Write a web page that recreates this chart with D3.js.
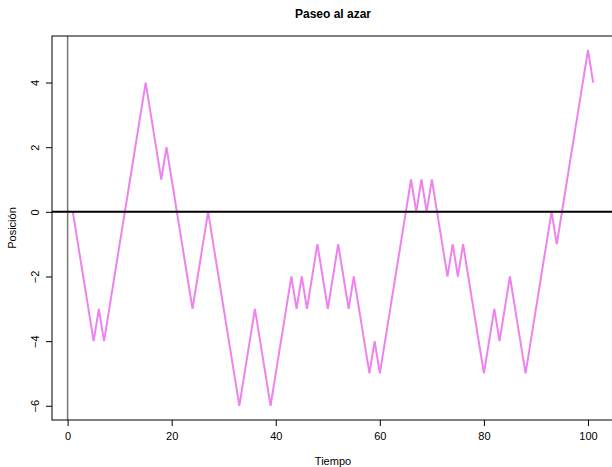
<!DOCTYPE html>
<html>
<head>
<meta charset="utf-8">
<script src="https://cdn.jsdelivr.net/npm/d3@7"></script>
<style>
  body { margin: 0; background: #fff; }
  svg { display: block; font-family: "Liberation Sans", Arial, sans-serif; }
</style>
</head>
<body>
<script>
"use strict";

// posiciones del paseo, tiempo 1..101
const tiempo = d3.range(1, 102);
const posicion = [
  0, -1, -2, -3, -4, -3, -4, -3, -2, -1,
  0, 1, 2, 3, 4, 3, 2, 1, 2, 1,
  0, -1, -2, -3, -2, -1, 0, -1, -2, -3,
  -4, -5, -6, -5, -4, -3, -4, -5, -6, -5,
  -4, -3, -2, -3, -2, -3, -2, -1, -2, -3,
  -2, -1, -2, -3, -2, -3, -4, -5, -4, -5,
  -4, -3, -2, -1, 0, 1, 0, 1, 0, 1,
  0, -1, -2, -1, -2, -1, -2, -3, -4, -5,
  -4, -3, -4, -3, -2, -3, -4, -5, -4, -3,
  -2, -1, 0, -1, 0, 1, 2, 3, 4, 5,
  4
];
const xTicks = [0, 20, 40, 60, 80, 100];
const yTicks = [-6, -4, -2, 0, 2, 4];

const w = 612, h = 467;
const mLeft = 52, mRight = 614, mTop = 36, mBottom = 420;

const svg = d3.select("body").append("svg")
  .attr("width", w).attr("height", h);

const x = d3.scaleLinear().domain([-3, 105]).range([mLeft, mRight]);
const y = d3.scaleLinear().domain([-6.44, 5.44]).range([mBottom, mTop]);

// linea vertical en x = 0
svg.append("line")
  .attr("x1", x(0)).attr("x2", x(0))
  .attr("y1", mTop).attr("y2", mBottom)
  .attr("stroke", "#777").attr("stroke-width", 1.5);

// el paseo
const line = d3.line()
  .x((d, i) => x(tiempo[i]))
  .y(d => y(d));

svg.append("path")
  .datum(posicion)
  .attr("d", line)
  .attr("fill", "none")
  .attr("stroke", "violet")
  .attr("stroke-width", 2)
  .attr("stroke-linejoin", "miter");

// linea horizontal en 0
svg.append("line")
  .attr("x1", mLeft).attr("x2", mRight)
  .attr("y1", y(0)).attr("y2", y(0))
  .attr("stroke", "#000").attr("stroke-width", 2);

// caja
svg.append("rect")
  .attr("x", mLeft).attr("y", mTop)
  .attr("width", mRight - mLeft).attr("height", mBottom - mTop)
  .attr("fill", "none").attr("stroke", "#000").attr("stroke-width", 1);

// ejes
const xAxis = d3.axisBottom(x).tickValues(xTicks).tickSize(6).tickPadding(6);
const gx = svg.append("g")
  .attr("transform", "translate(0," + mBottom + ")")
  .call(xAxis);
gx.select(".domain").remove();
gx.selectAll("text").attr("font-size", 11).attr("fill", "#000")
  .attr("font-family", "Liberation Sans, Arial, sans-serif");

const yAxis = d3.axisLeft(y).tickValues(yTicks).tickSize(6);
const gy = svg.append("g")
  .attr("transform", "translate(" + mLeft + ",0)")
  .call(yAxis);
gy.select(".domain").remove();
gy.selectAll("text")
  .attr("font-size", 11).attr("fill", "#000")
  .attr("font-family", "Liberation Sans, Arial, sans-serif")
  .attr("x", 0).attr("y", 0).attr("dy", "0.35em")
  .attr("text-anchor", "middle")
  .attr("transform", "translate(-17,0) rotate(-90)");

// titulos
svg.append("text")
  .attr("x", 333).attr("y", 18)
  .attr("text-anchor", "middle")
  .attr("font-weight", "bold").attr("font-size", 12)
  .text("Paseo al azar");

svg.append("text")
  .attr("x", 333).attr("y", 465)
  .attr("text-anchor", "middle")
  .attr("font-size", 11)
  .text("Tiempo");

svg.append("text")
  .attr("transform", "translate(16," + (mTop + mBottom) / 2 + ") rotate(-90)")
  .attr("text-anchor", "middle")
  .attr("font-size", 11)
  .text("Posición");
</script>
</body>
</html>
